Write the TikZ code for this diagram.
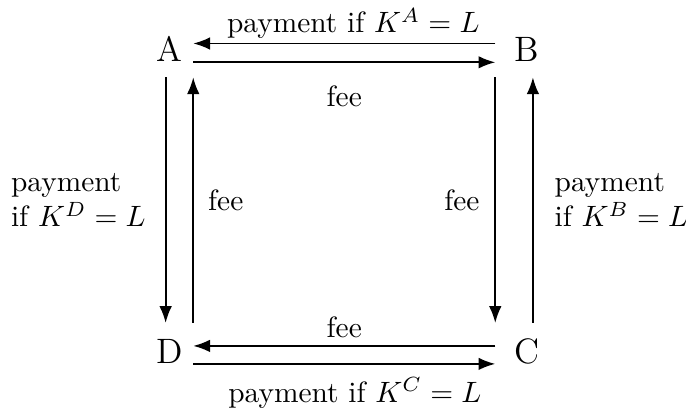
\documentclass[tikz,border=0pt]{standalone}
\usepackage{amsmath,amssymb}
\usetikzlibrary{arrows.meta,positioning,calc}
\tikzset{
  >=Latex,
  party/.style ={font=\large,inner sep=0pt},
  ar/.style    ={->,semithick},
  lbl/.style   ={font=\normalsize,inner sep=2.3pt},
}

\begin{document}
\begin{tikzpicture}
\useasboundingbox (-2.03,-0.72) rectangle (6.17,4.20);
% the four parties
\node[party] (D) at (0,0)       {D};
\node[party] (C) at (4.27,0)    {C};
\node[party] (A) at (0,3.61)    {A};
\node[party] (B) at (4.27,3.61) {B};

% top: A <-> B
\draw[ar] ($(B)+(-0.38,0.07)$) -- node[lbl,above=-1pt,pos=0.47] {payment if $K^A = L$}
    ($(A)+(0.28,0.07)$);
\draw[ar] ($(A)+(0.28,-0.155)$) -- node[lbl,below=5.5pt] {fee}
    ($(B)+(-0.38,-0.155)$);

% bottom: D <-> C
\draw[ar] ($(C)+(-0.38,0.065)$) -- node[lbl,above] {fee}
    ($(D)+(0.28,0.065)$);
\draw[ar] ($(D)+(0.28,-0.15)$) -- node[lbl,below=2pt,pos=0.535] {payment if $K^C = L$}
    ($(C)+(-0.38,-0.15)$);

% left: A <-> D
\draw[ar] ($(A)+(-0.05,-0.335)$) -- node[lbl,left=4.2pt,align=left] {payment\\if $K^D = L$}
    ($(D)+(-0.05,0.34)$);
\draw[ar] ($(D)+(0.28,0.34)$) -- node[lbl,right=2.5pt] {fee}
    ($(A)+(0.28,-0.335)$);

% right: B <-> C
\draw[ar] ($(B)+(-0.38,-0.335)$) -- node[lbl,left=2.8pt] {fee}
    ($(C)+(-0.38,0.34)$);
\draw[ar] ($(C)+(0.07,0.34)$) -- node[lbl,right=4.8pt,align=left] {payment\\if $K^B = L$}
    ($(B)+(0.07,-0.335)$);
\end{tikzpicture}
\end{document}
